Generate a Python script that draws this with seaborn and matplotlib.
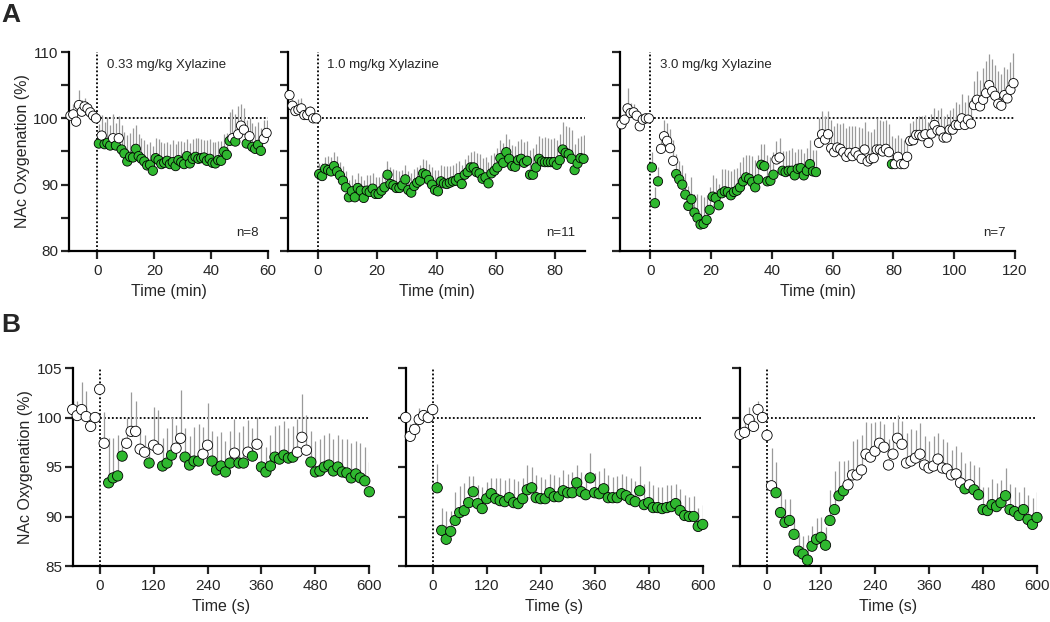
import numpy as np
import pandas as pd
import matplotlib
matplotlib.use('Agg')
import matplotlib.pyplot as plt
import seaborn as sns

# ---------------- 数据 ----------------
# A: 1-min bins, 基线 10 个点 + 给药后
a1_time = np.arange(-9.5, 60, 1.0)
a1_mean = [100.4, 100.6, 99.5, 102.0, 101.0, 101.8, 101.5, 100.9, 100.4, 100.0,
           96.2, 97.4, 96.1, 96.3, 95.9, 97.0, 95.9, 97.0, 95.3, 94.7,
           93.5, 94.2, 94.1, 95.4, 94.3, 93.9, 93.5, 92.9, 93.0, 92.1,
           94.0, 93.7, 93.1, 93.3, 93.6, 93.1, 93.4, 92.8, 93.7, 93.4,
           93.1, 94.3, 93.2, 93.9, 94.2, 93.9, 94.0, 94.1, 93.6, 93.9,
           93.3, 93.2, 93.7, 93.6, 95.0, 94.5, 96.6, 97.0, 96.5, 97.6,
           98.9, 98.3, 96.2, 97.3, 95.7, 95.4, 96.0, 95.1, 96.9, 97.8]
a1_sem = [0.8, 1.6, 1.2, 2.3, 1.8, 1.2, 1.0, 0.8, 0.6, 0.4,
          3.0, 3.1, 3.4, 3.9, 3.1, 3.6, 3.4, 3.4, 3.7, 3.3,
          4.0, 3.6, 4.4, 3.6, 3.4, 3.1, 3.3, 3.3, 3.5, 3.7,
          3.0, 3.2, 3.4, 3.0, 2.8, 3.1, 3.3, 3.4, 2.9, 3.2,
          3.3, 2.6, 3.1, 3.0, 2.8, 3.1, 2.9, 2.7, 3.2, 3.0,
          3.1, 3.3, 2.9, 3.0, 2.6, 3.3, 4.4, 4.4, 4.2, 4.2,
          3.3, 3.3, 3.6, 2.7, 3.6, 3.4, 3.5, 3.4, 2.8, 2.0]
a1_sig = [(0.5, 0.5), (2.5, 4.5), (6.5, 6.5), (8.5, 46.5), (48.5, 48.5),
          (52.5, 52.5), (54.5, 57.5)]

a2_time = np.arange(-9.5, 90, 1.0)
a2_mean = [103.5, 101.9, 101.1, 101.3, 101.5, 100.5, 100.5, 101.0, 100.0, 100.0,
           91.6, 91.3, 92.4, 92.2, 92.0, 92.8, 92.0, 91.4, 90.6, 89.6,
           88.1, 89.0, 88.1, 89.5, 89.1, 88.0, 89.1, 88.9, 89.4, 88.6,
           88.6, 89.1, 89.6, 91.5, 90.1, 89.9, 89.5, 89.5, 89.9, 90.8,
           89.2, 88.8, 89.8, 90.3, 90.6, 91.7, 91.5, 90.7, 90.0, 89.2,
           89.0, 90.5, 90.2, 90.1, 90.3, 90.5, 90.6, 91.0, 90.1, 91.5,
           91.9, 92.6, 92.6, 91.9, 91.7, 90.9, 91.1, 90.2, 91.7, 92.1,
           92.6, 94.0, 93.3, 94.9, 93.9, 92.8, 92.7, 93.7, 93.9, 93.3,
           93.6, 91.5, 91.5, 92.6, 93.9, 93.5, 93.4, 93.4, 93.4, 93.4,
           93.0, 93.7, 95.3, 94.8, 94.6, 93.9, 92.2, 93.2, 94.0, 93.9]
a2_sem = [0.5, 1.0, 0.8, 1.6, 1.5, 0.6, 1.0, 0.8, 0.4, 0.3,
          1.7, 2.0, 1.8, 2.1, 2.2, 2.1, 2.3, 2.0, 2.2, 2.4,
          2.6, 2.4, 2.8, 2.3, 2.2, 2.7, 2.3, 2.5, 2.4, 2.6,
          2.5, 2.3, 2.4, 2.0, 2.6, 2.4, 2.7, 2.5, 2.3, 2.2,
          2.8, 2.9, 2.6, 2.4, 2.3, 2.1, 2.2, 2.4, 2.7, 3.0,
          3.2, 2.5, 2.6, 2.7, 2.5, 2.4, 2.6, 2.5, 2.8, 2.4,
          2.6, 2.3, 2.5, 2.8, 2.9, 3.1, 3.0, 3.2, 2.8, 2.6,
          2.9, 2.7, 3.0, 2.8, 3.0, 3.2, 3.1, 2.9, 3.0, 3.2,
          3.0, 3.8, 4.0, 3.6, 3.4, 3.6, 3.8, 3.7, 3.5, 3.6,
          3.8, 3.9, 4.2, 4.0, 4.1, 4.3, 4.0, 3.9, 3.4, 3.6]
a2_sig = [(0.5, 89.5)]

a3_time = np.arange(-9.5, 120, 1.0)
a3_mean = [99.1, 99.8, 101.5, 100.8, 100.9, 100.4, 98.8, 99.8, 100.0, 100.0,
           92.6, 87.2, 90.5, 95.4, 97.3, 96.6, 95.5, 93.6, 91.6, 90.8,
           90.0, 88.5, 86.8, 87.8, 85.8, 85.0, 84.0, 84.1, 84.7, 86.2,
           88.2, 88.0, 86.9, 88.7, 89.0, 88.9, 88.4, 88.9, 89.1, 89.6,
           90.5, 91.1, 90.9, 90.4, 89.6, 90.8, 93.0, 92.8, 90.5, 90.6,
           91.5, 93.8, 94.1, 92.1, 91.9, 92.1, 92.1, 91.4, 92.4, 92.5,
           91.4, 92.1, 93.1, 92.0, 91.9, 96.3, 97.6, 96.8, 97.6, 95.5,
           94.9, 95.6, 95.4, 94.9, 94.2, 94.8, 94.3, 94.9, 94.4, 93.9,
           95.3, 93.5, 93.9, 94.0, 95.3, 95.3, 95.0, 95.4, 94.9, 93.1,
           93.1, 94.2, 93.1, 93.1, 94.2, 96.6, 96.7, 97.5, 97.5, 97.3,
           97.6, 96.3, 97.7, 99.0, 98.2, 98.1, 97.1, 97.1, 98.3, 98.3,
           99.0, 99.0, 100.0, 99.0, 99.8, 99.2, 102.0, 102.8, 101.8, 102.8,
           103.8, 105.0, 104.1, 103.4, 102.2, 101.9, 103.5, 103.0, 104.3, 105.3]
a3_sem = [0.8, 1.2, 3.0, 1.5, 1.2, 0.8, 1.0, 0.5, 0.4, 0.3,
          2.3, 2.4, 2.1, 2.6, 2.4, 2.7, 2.9, 3.1, 3.0, 2.8,
          2.9, 3.2, 3.0, 3.3, 2.8, 3.6, 4.4, 4.1, 3.8, 3.5,
          3.3, 3.0, 3.2, 3.6, 3.4, 3.3, 3.7, 3.5, 3.4, 3.8,
          3.6, 3.3, 3.5, 3.9, 4.1, 3.7, 3.2, 3.4, 3.9, 3.6,
          3.4, 2.8, 3.0, 3.0, 3.2, 3.1, 3.4, 3.5, 3.0, 2.9,
          3.3, 3.4, 3.6, 3.2, 3.3, 3.8, 3.5, 3.6, 3.5, 4.2,
          4.0, 3.7, 3.8, 4.4, 4.3, 4.1, 4.5, 3.9, 4.3, 4.6,
          4.2, 4.6, 4.0, 4.4, 4.7, 4.5, 4.6, 4.4, 4.3, 4.2,
          3.9, 3.3, 4.0, 3.6, 2.9, 2.7, 2.9, 2.6, 2.8, 3.1,
          2.9, 3.2, 3.0, 2.6, 3.1, 3.4, 3.3, 3.5, 3.0, 3.2,
          3.4, 3.2, 3.6, 3.5, 3.7, 3.9, 3.6, 4.3, 4.0, 4.8,
          4.9, 4.7, 4.8, 4.6, 5.0, 4.8, 4.3, 4.5, 4.2, 4.6]
a3_sig = [(0.5, 2.5), (8.5, 40.5), (43.5, 54.5), (79.5, 79.5)]

# B: 10-s bins, -60 ~ 600 s
b_time = np.arange(-60, 601, 10)
b1_mean = [100.8, 100.2, 100.8, 100.1, 99.1, 100.0, 102.85,
           97.4, 93.4, 93.9, 94.1, 96.1, 97.4, 98.6, 98.6, 96.8, 96.5,
           95.4, 97.2, 96.8, 95.1, 95.4, 96.2, 96.9, 97.9, 96.0, 95.2,
           95.6, 95.6, 96.3, 97.2, 95.6, 94.7, 95.1, 94.5, 95.4, 96.4,
           95.4, 95.4, 96.5, 96.1, 97.3, 95.0, 94.5, 95.1, 96.0, 95.8,
           96.2, 95.9, 96.0, 96.5, 98.0, 96.7, 95.5, 94.5, 94.6, 95.0,
           95.2, 94.6, 95.0, 94.5, 94.4, 93.9, 94.3, 93.9, 93.6, 92.5]
b1_sem = [0.9, 1.5, 2.8, 2.6, 0.8, 0.4, 0.3,
          3.2, 4.5, 4.0, 4.1, 1.8, 2.5, 4.0, 3.1, 2.1, 1.7,
          2.0, 3.9, 4.0, 2.8, 3.5, 3.9, 2.3, 4.9, 2.9, 2.9,
          3.4, 3.7, 2.7, 4.3, 3.0, 3.4, 3.4, 3.1, 3.2, 3.4,
          3.1, 3.7, 3.2, 2.8, 2.8, 2.6, 2.5, 3.1, 3.1, 3.4,
          3.4, 3.0, 3.1, 3.3, 4.4, 3.6, 3.1, 3.1, 3.2, 3.2,
          3.2, 3.2, 3.2, 3.3, 3.4, 3.5, 3.3, 3.5, 3.4, 3.0]
b1_sig = [(20, 50), (110, 110), (140, 160), (190, 220), (250, 290), (310, 320),
          (340, 340), (360, 430), (470, 600)]

b2_mean = [100.0, 98.1, 98.8, 99.8, 100.2, 100.0, 100.8,
           92.9, 88.6, 87.7, 88.5, 89.6, 90.4, 90.6, 91.4, 92.5, 91.3,
           90.8, 91.8, 92.3, 91.8, 91.6, 91.5, 91.9, 91.4, 91.3, 91.8,
           92.7, 92.9, 91.9, 91.8, 91.8, 92.4, 92.0, 92.0, 92.6, 92.4,
           92.4, 93.4, 92.5, 92.2, 93.9, 92.4, 92.3, 92.8, 91.9, 91.9,
           91.9, 92.3, 92.1, 91.7, 91.5, 92.6, 91.2, 91.4, 90.9, 90.9,
           90.8, 90.9, 91.0, 91.3, 90.6, 90.1, 90.0, 90.0, 89.0, 89.2]
b2_sem = [0.3, 1.2, 1.5, 1.2, 0.4, 0.3, 0.3,
          2.4, 2.3, 2.9, 2.1, 2.9, 2.7, 2.8, 2.7, 1.6, 1.9,
          2.2, 1.7, 1.6, 2.1, 2.3, 2.2, 2.0, 2.4, 2.3, 2.1,
          2.5, 2.1, 2.3, 2.2, 2.0, 1.9, 2.2, 2.0, 2.1, 1.9,
          2.1, 1.8, 2.0, 2.1, 2.5, 2.0, 2.3, 2.1, 2.3, 2.1,
          2.2, 2.0, 2.0, 2.2, 2.1, 2.5, 2.1, 2.2, 2.3, 2.1,
          2.2, 2.3, 2.2, 2.0, 2.2, 2.1, 2.0, 2.1, 1.9, 2.0]
b2_sig = [(10, 600)]

b3_mean = [98.3, 98.5, 99.8, 99.1, 100.8, 100.0, 98.2,
           93.1, 92.4, 90.4, 89.4, 89.6, 88.2, 86.5, 86.2, 85.6, 87.0,
           87.7, 87.9, 87.1, 89.6, 90.7, 92.1, 92.6, 93.2, 94.2, 94.2,
           94.7, 96.3, 96.0, 96.6, 97.4, 97.0, 95.2, 96.3, 97.9, 97.3,
           95.4, 95.6, 95.9, 96.3, 95.2, 94.9, 95.1, 95.8, 94.9, 94.8,
           94.2, 94.3, 93.4, 92.8, 93.2, 92.7, 92.2, 90.7, 90.6, 91.2,
           91.0, 91.4, 92.1, 90.7, 90.5, 90.1, 90.7, 89.7, 89.2, 89.9]
b3_sem = [0.2, 1.4, 1.3, 0.9, 0.9, 0.3, 0.2,
          3.8, 3.1, 2.0, 2.4, 2.2, 1.5, 1.6, 1.8, 2.5, 2.0,
          2.1, 2.1, 1.8, 3.1, 3.9, 3.5, 3.0, 2.5, 3.4, 3.6,
          3.5, 3.2, 3.4, 2.9, 2.2, 2.3, 2.6, 3.2, 2.4, 2.3,
          3.0, 3.2, 2.8, 3.1, 2.9, 2.7, 3.0, 2.6, 2.9, 2.7,
          2.5, 2.8, 3.1, 2.6, 2.4, 2.5, 2.8, 2.3, 2.4, 2.6,
          2.4, 2.3, 2.8, 2.6, 2.5, 2.4, 2.3, 2.5, 2.7, 2.6]
b3_sig = [(20, 170), (440, 440), (460, 600)]

a_yticks = [80, 85, 90, 95, 100, 105, 110]
a_ylabels = ['80', '', '90', '', '100', '', '110']
b_yticks = [85, 90, 95, 100, 105]
b_ylabels = ['85', '90', '95', '100', '105']
doses = ['0.33 mg/kg Xylazine', '1.0 mg/kg Xylazine', '3.0 mg/kg Xylazine']
n_labels = ['n=8', 'n=11', 'n=7']

GREEN = '#2fb82f'
GREY = '#9a9a9a'

# ---------------- 样式 ----------------
sns.set_style('ticks')
plt.rcParams['font.family'] = ['Liberation Sans', 'DejaVu Sans']
plt.rcParams['axes.linewidth'] = 1.6
plt.rcParams['xtick.major.width'] = 1.6
plt.rcParams['ytick.major.width'] = 1.6
plt.rcParams['xtick.major.size'] = 5.5
plt.rcParams['ytick.major.size'] = 5.5
plt.rcParams['xtick.labelsize'] = 11
plt.rcParams['ytick.labelsize'] = 11
plt.rcParams['xtick.major.pad'] = 4
plt.rcParams['ytick.major.pad'] = 2
plt.rcParams['axes.edgecolor'] = 'black'

DOT = (0, (1, 1.2))


def draw_panel(ax, t, mean, sem, spans, xlim, xticks, ylim, yticks, ylabels,
               xlabel, ylabel=None, dose=None, n=None, size=45):
    t = np.asarray(t, float)
    mean = np.asarray(mean, float)
    sem = np.asarray(sem, float)
    sig = np.zeros(len(t), bool)
    for lo, hi in spans:
        sig |= (t >= lo) & (t <= hi)
    df = pd.DataFrame({'t': t, 'mean': mean,
                       'grp': np.where(sig, 'sig', 'ns')})

    ax.axvline(0, color='black', lw=1.3, ls=DOT, zorder=1)
    ax.plot([0, xlim[1]], [100, 100], color='black', lw=1.3, ls=DOT, zorder=1)
    # 误差线只画上半部分
    ax.vlines(t, mean, mean + sem, color=GREY, lw=0.9, zorder=2)
    sns.scatterplot(data=df, x='t', y='mean', hue='grp',
                    palette={'sig': GREEN, 'ns': 'white'},
                    edgecolor='black', linewidth=0.6, s=size,
                    legend=False, ax=ax, zorder=3, clip_on=False)

    ax.set_xlim(xlim)
    ax.set_ylim(ylim)
    ax.set_xticks(xticks)
    ax.set_yticks(yticks)
    ax.set_yticklabels(ylabels)
    sns.despine(ax=ax)
    ax.set_xlabel(xlabel, fontsize=11.5, labelpad=4)
    if ylabel:
        ax.set_ylabel(ylabel, fontsize=11.5, labelpad=2.5)
    else:
        ax.set_ylabel('')
    if dose:
        ax.annotate(dose, xy=(0, 1), xycoords=('data', 'axes fraction'),
                    xytext=(7, -9.5), textcoords='offset points',
                    ha='left', va='center', fontsize=9.5)
    if n:
        ax.annotate(n, xy=(1, 0), xycoords='axes fraction',
                    xytext=(-7, 13), textcoords='offset points',
                    ha='right', va='center', fontsize=9.5)


fig = plt.figure(figsize=(10.5, 6.22), dpi=100)
W, H = 1050, 622


def add_ax(x0, x1, y0, y1):
    return fig.add_axes([x0 / W, 1 - y1 / H, (x1 - x0) / W, (y1 - y0) / H])


ax_a1 = add_ax(69, 268, 52, 251)
ax_a2 = add_ax(288, 585, 52, 251)
ax_a3 = add_ax(620, 1015, 52, 251)
ax_b1 = add_ax(72.7, 369.3, 368, 566)
ax_b2 = add_ax(405.7, 702.7, 368, 566)
ax_b3 = add_ax(740, 1037, 368, 566)

ylab = 'NAc Oxygenation (%)'
draw_panel(ax_a1, a1_time, a1_mean, a1_sem, a1_sig, (-10, 60), [0, 20, 40, 60],
           (80, 110), a_yticks, a_ylabels, 'Time (min)', ylab, doses[0], n_labels[0])
draw_panel(ax_a2, a2_time, a2_mean, a2_sem, a2_sig, (-10, 90), [0, 20, 40, 60, 80],
           (80, 110), a_yticks, [''] * 7, 'Time (min)', None, doses[1], n_labels[1])
draw_panel(ax_a3, a3_time, a3_mean, a3_sem, a3_sig, (-10, 120),
           [0, 20, 40, 60, 80, 100, 120],
           (80, 110), a_yticks, [''] * 7, 'Time (min)', None, doses[2], n_labels[2])

b_xticks = [0, 120, 240, 360, 480, 600]
draw_panel(ax_b1, b_time, b1_mean, b1_sem, b1_sig, (-60, 600), b_xticks,
           (85, 105), b_yticks, b_ylabels, 'Time (s)', ylab, size=55)
draw_panel(ax_b2, b_time, b2_mean, b2_sem, b2_sig, (-60, 600), b_xticks,
           (85, 105), b_yticks, [''] * 5, 'Time (s)', size=55)
draw_panel(ax_b3, b_time, b3_mean, b3_sem, b3_sig, (-60, 600), b_xticks,
           (85, 105), b_yticks, [''] * 5, 'Time (s)', size=55)

fig.text(1 / W, 1 - 22 / H, 'A', fontsize=19, fontweight='bold', ha='left', va='baseline')
fig.text(1 / W, 1 - 332 / H, 'B', fontsize=19, fontweight='bold', ha='left', va='baseline')

fig.savefig('out.png', dpi=100)
